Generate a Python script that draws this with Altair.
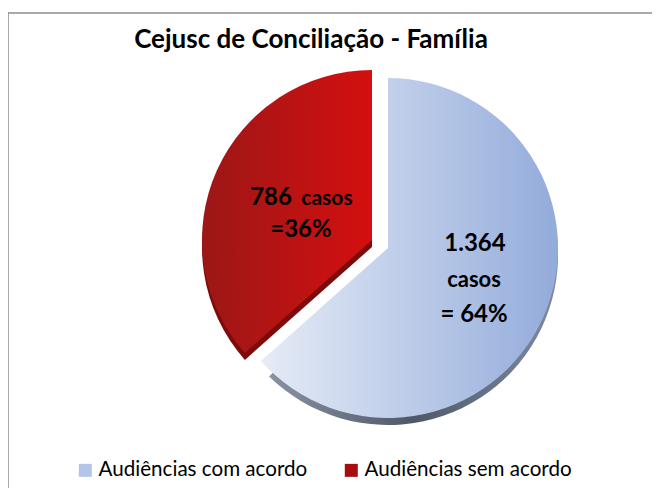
import altair as alt
import pandas as pd

categories = ["Audiências com acordo", "Audiências sem acordo"]
values = [1364, 786]
order = [1, 2]

title_text = "Cejusc de Conciliação - Família"
blue_lines = ["1.364", "casos", "= 64%"]
red_lines = ["786", "casos", "=36%"]

df = pd.DataFrame({"cat": categories, "value": values, "order": order})

FONT = "Lato"
BLUE_GRAD = {"gradient": "linear", "x1": 0, "y1": 0, "x2": 1, "y2": 0,
             "stops": [{"offset": 0, "color": "#e6ecf6"}, {"offset": 1, "color": "#93abdb"}]}
RED_GRAD = {"gradient": "linear", "x1": 0, "y1": 0, "x2": 1, "y2": 0,
            "stops": [{"offset": 0, "color": "#9c1717"}, {"offset": 1, "color": "#d40f0f"}]}
BLUE_RIM = {"gradient": "linear", "x1": 0, "y1": 0, "x2": 1, "y2": 0,
            "stops": [{"offset": 0, "color": "#8a93a3"}, {"offset": 0.5, "color": "#4e5868"}, {"offset": 1, "color": "#7d8aa0"}]}

W, H = 644, 480
R = 170
BCX, BCY = 380, 240
RCX, RCY = 364, 232

base = alt.Chart(df).transform_joinaggregate(
    total="sum(value)"
).transform_window(
    cum="sum(value)", sort=[alt.SortField("order")]
).transform_calculate(
    t0="(datum.cum - datum.value) / datum.total * 2 * PI",
    t1="datum.cum / datum.total * 2 * PI",
)

blue = base.transform_filter(alt.datum.cat == categories[0])
red = base.transform_filter(alt.datum.cat == categories[1])

blue_rim = blue.transform_calculate(t1r="datum.t1 - 0.07").mark_arc(
    radius=R, radius2=80, fill=BLUE_RIM
).encode(
    theta=alt.Theta("t0:Q", scale=None), theta2="t1r:Q",
    x=alt.value(BCX), y=alt.value(BCY + 7),
)
blue_arc = blue.mark_arc(radius=R, fill=BLUE_GRAD).encode(
    theta=alt.Theta("t0:Q", scale=None), theta2="t1:Q",
    x=alt.value(BCX), y=alt.value(BCY),
)
red_rim = red.mark_arc(radius=R, fill="#7e0b0b").encode(
    theta=alt.Theta("t0:Q", scale=None), theta2="t1:Q",
    x=alt.value(RCX), y=alt.value(RCY + 7),
)
red_arc = red.mark_arc(radius=R, fill=RED_GRAD).encode(
    theta=alt.Theta("t0:Q", scale=None), theta2="t1:Q",
    x=alt.value(RCX), y=alt.value(RCY),
)

legend_layer = alt.Chart(df).mark_arc(opacity=0, radius=1).encode(
    theta=alt.Theta("value:Q"),
    color=alt.Color(
        "cat:N",
        scale=alt.Scale(domain=categories, range=["#b3c6ea", "#a80d0d"]),
        legend=alt.Legend(
            title=None, orient="none", legendX=67, legendY=452,
            direction="horizontal", symbolType="square", symbolSize=169,
            symbolOpacity=1, symbolStrokeWidth=0, labelFont=FONT,
            labelFontSize=20.6, labelColor="#000000", labelOffset=3,
            columnPadding=33, labelLimit=400,
        ),
    ),
)

def txt(s, x, y, size):
    return alt.Chart(pd.DataFrame({"t": [s]})).mark_text(
        font=FONT, fontWeight="bold", fontSize=size, color="#000000",
        align="center", baseline="alphabetic",
    ).encode(text="t:N", x=alt.value(x), y=alt.value(y))

texts = [
    txt(title_text, 303, 40, 26),
    txt(blue_lines[0], 467, 243, 24),
    txt(blue_lines[1], 466, 279, 22),
    txt(blue_lines[2], 466, 314, 24),
    txt(red_lines[0], 263, 197, 24),
    txt(red_lines[1], 319, 197, 21),
    txt(red_lines[2], 293, 229, 24),
]

border_top = alt.Chart(pd.DataFrame({"a": [0]})).mark_rule(color="#8c8c8c", strokeWidth=1.5).encode(
    x=alt.value(0), x2=alt.value(W), y=alt.value(5))
border_left = alt.Chart(pd.DataFrame({"a": [0]})).mark_rule(color="#8c8c8c", strokeWidth=1.5).encode(
    x=alt.value(0), y=alt.value(5), y2=alt.value(H))

chart = alt.layer(
    border_top, border_left, legend_layer, blue_rim, red_rim, blue_arc, red_arc, *texts
).properties(
    width=W, height=H, padding=0, autosize=alt.AutoSizeParams(type="none")
).configure_view(stroke=None)

chart.save("out.html", embed_options={"renderer": "svg", "actions": False})
